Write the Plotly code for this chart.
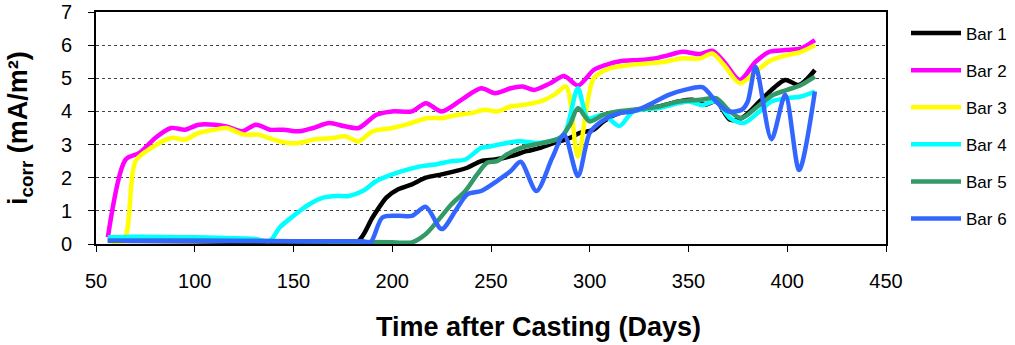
import plotly.graph_objects as go

# ---- data ----
bar1_days = [56, 100, 150, 182, 190, 197, 203, 210, 217, 225, 232, 238, 245, 252, 260, 268, 275, 282, 290, 295, 302, 307, 315, 325, 335, 345, 352, 358, 364, 371, 377, 386, 393, 399, 406, 414]
bar1_vals = [0.1, 0.08, 0.05, 0.05, 0.8, 1.4, 1.65, 1.8, 2.0, 2.1, 2.2, 2.3, 2.5, 2.55, 2.65, 2.8, 2.9, 3.05, 3.2, 3.35, 3.45, 3.7, 3.95, 4.05, 4.15, 4.3, 4.35, 4.2, 4.3, 3.75, 3.8, 4.3, 4.7, 4.95, 4.8, 5.25]

bar2_days = [56, 65, 72, 80, 88, 95, 102, 110, 116, 124, 131, 138, 145, 153, 160, 168, 176, 183, 192, 200, 210, 217, 225, 235, 245, 252, 260, 266, 272, 280, 287, 294, 302, 308, 316, 325, 333, 340, 347, 356, 362, 368, 376, 384, 391, 399, 407, 414]
bar2_vals = [0.2, 2.55, 2.75, 3.2, 3.5, 3.45, 3.6, 3.6, 3.55, 3.4, 3.6, 3.45, 3.45, 3.4, 3.5, 3.65, 3.55, 3.5, 3.9, 4.0, 4.0, 4.25, 4.0, 4.35, 4.7, 4.55, 4.7, 4.75, 4.65, 4.85, 5.07, 4.78, 5.25, 5.4, 5.52, 5.55, 5.6, 5.7, 5.8, 5.73, 5.83, 5.5, 4.95, 5.5, 5.8, 5.85, 5.9, 6.15]

bar3_days = [56, 64, 70, 78, 88, 95, 102, 110, 116, 125, 132, 140, 147, 153, 160, 170, 176, 183, 190, 200, 207, 218, 225, 233, 240, 247, 253, 260, 267, 275, 282, 288, 294, 302, 310, 320, 330, 338, 346, 356, 362, 368, 376, 385, 392, 400, 407, 414]
bar3_vals = [0.1, 0.1, 2.5, 2.9, 3.2, 3.15, 3.35, 3.45, 3.5, 3.3, 3.3, 3.15, 3.05, 3.05, 3.15, 3.2, 3.25, 3.1, 3.4, 3.5, 3.6, 3.8, 3.8, 3.9, 3.95, 4.05, 4.0, 4.15, 4.2, 4.3, 4.5, 4.75, 2.63, 5.0, 5.3, 5.4, 5.45, 5.5, 5.6, 5.6, 5.75, 5.4, 4.85, 5.25, 5.55, 5.7, 5.8, 6.0]

bar4_days = [56, 70, 100, 130, 138, 143, 150, 158, 165, 172, 178, 185, 192, 200, 208, 215, 222, 230, 237, 245, 250, 258, 265, 272, 280, 287, 294, 299, 307, 315, 322, 335, 350, 357, 364, 371, 378, 385, 392, 400, 407, 414]
bar4_vals = [0.2, 0.22, 0.2, 0.15, 0.1, 0.5, 0.85, 1.2, 1.4, 1.45, 1.45, 1.6, 1.9, 2.1, 2.25, 2.35, 2.4, 2.5, 2.55, 2.9, 2.95, 3.05, 3.1, 3.05, 3.1, 3.3, 4.7, 3.8, 3.9, 3.56, 4.0, 4.1, 4.3, 4.19, 4.3, 3.8, 3.65, 3.95, 4.3, 4.4, 4.45, 4.6]

bar5_days = [56, 100, 150, 200, 210, 217, 223, 230, 237, 243, 248, 253, 258, 265, 272, 280, 285, 290, 294, 300, 307, 314, 322, 335, 345, 356, 364, 371, 377, 385, 393, 400, 407, 414]
bar5_vals = [0.1, 0.1, 0.08, 0.05, 0.05, 0.3, 0.7, 1.2, 1.6, 2.1, 2.45, 2.5, 2.7, 2.9, 3.0, 3.1, 3.2, 3.6, 4.1, 3.7, 3.9, 4.0, 4.05, 4.15, 4.3, 4.35, 4.4, 4.0, 3.8, 4.15, 4.5, 4.65, 4.8, 5.05]

bar6_days = [56, 100, 150, 185, 189, 195, 203, 210, 217, 225, 232, 238, 245, 253, 260, 265, 273, 281, 287, 294, 300, 306, 315, 322, 330, 340, 348, 357, 364, 370, 377, 380, 384, 392, 399, 406, 414]
bar6_vals = [0.1, 0.1, 0.08, 0.08, 0.05, 0.8, 0.85, 0.85, 1.12, 0.45, 1.0, 1.5, 1.6, 1.9, 2.2, 2.48, 1.6, 2.6, 3.3, 2.05, 3.35, 3.7, 3.95, 4.0, 4.2, 4.5, 4.65, 4.73, 4.3, 4.0, 4.05, 4.3, 5.35, 3.16, 4.5, 2.23, 4.6]

series_names = ["Bar 1", "Bar 2", "Bar 3", "Bar 4", "Bar 5", "Bar 6"]
series_days = [bar1_days, bar2_days, bar3_days, bar4_days, bar5_days, bar6_days]
series_vals = [bar1_vals, bar2_vals, bar3_vals, bar4_vals, bar5_vals, bar6_vals]
colors = ["#000000", "#FF00FF", "#FFFF00", "#00FFFF", "#339966", "#3366FF"]

x_ticks = [50, 100, 150, 200, 250, 300, 350, 400, 450]
y_ticks = [0, 1, 2, 3, 4, 5, 6, 7]

x_title = "<b>Time after Casting (Days)</b>"
y_title = "<b>i<sub>corr</sub> (mA/m²)</b>"

fig = go.Figure()
for name, d, v, c in zip(series_names, series_days, series_vals, colors):
    fig.add_trace(go.Scatter(
        x=d, y=v, name=name, mode="lines",
        line=dict(color=c, width=4.5, shape="spline", smoothing=0.8),
        legendgroup=name,
    ))

W, H = 1015, 345
L, T = 96, 12
PW, PH = 790, 232
font_family = "Liberation Sans, Arial, sans-serif"
fig.update_layout(
    width=W, height=H,
    margin=dict(l=L, r=W - L - PW, t=T, b=H - T - PH, autoexpand=False),
    plot_bgcolor="white", paper_bgcolor="white",
    font=dict(family=font_family, color="black"),
    showlegend=True,
    legend=dict(
        x=(906 - L) / PW, y=0.985, xanchor="left", yanchor="top",
        font=dict(size=17, family=font_family, color="black"),
        tracegroupgap=12, bgcolor="rgba(0,0,0,0)",
        itemwidth=50, maxheight=330,
    ),
    xaxis=dict(
        range=[50, 450], tickvals=x_ticks, ticktext=[str(t) for t in x_ticks],
        ticks="outside", ticklen=6, tickcolor="black", tickwidth=1,
        ticklabelstandoff=12, ticklabeloverflow="allow",
        showline=True, linecolor="black", linewidth=2, mirror=True,
        showgrid=False, zeroline=False, automargin=False,
        tickfont=dict(size=20),
    ),
    yaxis=dict(
        range=[0, 7], tickvals=y_ticks, ticktext=[str(t) for t in y_ticks],
        ticks="outside", ticklen=6, tickcolor="black", tickwidth=1,
        ticklabelstandoff=12, ticklabeloverflow="allow",
        showline=True, linecolor="black", linewidth=2, mirror=True,
        showgrid=True, gridcolor="#444444", gridwidth=1, griddash="dot",
        zeroline=False, automargin=False,
        tickfont=dict(size=20),
    ),
    annotations=[
        dict(text=x_title, xref="paper", yref="paper",
             x=(538 - L) / PW, y=-(327 - (T + PH)) / PH,
             xanchor="center", yanchor="middle", showarrow=False,
             font=dict(size=27, family=font_family, color="black")),
        dict(text=y_title, xref="paper", yref="paper",
             x=-(L - 20) / PW, y=0.5, textangle=-90,
             xanchor="center", yanchor="middle", showarrow=False,
             font=dict(size=27, family=font_family, color="black")),
    ],
)

# remove the browser's default page margin so the figure fills the window exactly
fig.write_html("out.html", config={"displayModeBar": False},
               post_script="document.body.style.margin='0';")
